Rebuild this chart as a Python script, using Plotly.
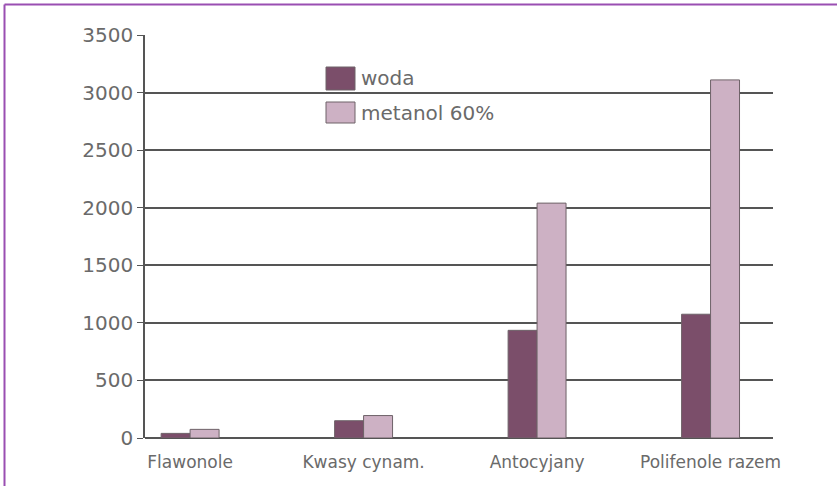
import plotly.graph_objects as go

# Zawartość związków fenolowych w ekstraktach
kategorie = ["Flawonole", "Kwasy cynam.", "Antocyjany", "Polifenole razem"]
woda = [40, 150, 935, 1075]
metanol_60 = [75, 195, 2040, 3110]
y_ticks = [0, 500, 1000, 1500, 2000, 2500, 3000, 3500]

nazwy = ["woda", "metanol 60%"]
kolory = ["#7b4e6a", "#cdb1c4"]

W, H = 837, 486
L, R, T, B = 145, 64, 35, 48
pw, ph = W - L - R, H - T - B


def px_x(x):
    return (x - L) / pw


def px_y(y):
    return (H - B - y) / ph


fig = go.Figure()
for nazwa, wartosci, kolor in zip(nazwy, [woda, metanol_60], kolory):
    fig.add_trace(go.Bar(
        x=kategorie, y=wartosci, name=nazwa,
        marker=dict(color=kolor, line=dict(color="#6e6268", width=1)),
        showlegend=False,
    ))

# ramka wokół wykresu (góra i lewa strona)
ramka = dict(color="#9a4fb2", width=2)
shapes = [
    dict(type="line", xref="paper", yref="paper",
         x0=px_x(4.5), x1=px_x(W), y0=px_y(4.5), y1=px_y(4.5), line=ramka),
    dict(type="line", xref="paper", yref="paper",
         x0=px_x(4.5), x1=px_x(4.5), y0=px_y(4.5), y1=px_y(H), line=ramka),
]

# własna legenda z dużymi kwadratami
annotations = []
legenda_y = [(67, 90), (102, 123)]
for nazwa, kolor, (ya, yb) in zip(nazwy, kolory, legenda_y):
    shapes.append(dict(type="rect", xref="paper", yref="paper",
                       x0=px_x(326), x1=px_x(355), y0=px_y(yb), y1=px_y(ya),
                       fillcolor=kolor, line=dict(color="#6e6268", width=1)))
    annotations.append(dict(xref="paper", yref="paper", x=px_x(359),
                            y=px_y((ya + yb) / 2), text=nazwa, showarrow=False,
                            xanchor="left", yanchor="middle",
                            font=dict(family="DejaVu Sans", size=20, color="#6a6a6a")))

fig.update_layout(
    width=W, height=H,
    margin=dict(l=L, r=R, t=T, b=B, pad=0),
    paper_bgcolor="white", plot_bgcolor="white",
    barmode="group", bargap=0.666, bargroupgap=0,
    shapes=shapes, annotations=annotations,
    xaxis=dict(type="category", range=[-0.26, 3.36], showgrid=False,
               showline=False, ticks="", ticklabelstandoff=12,
               tickfont=dict(family="DejaVu Sans", size=17, color="#6a6a6a")),
    yaxis=dict(range=[0, 3500], tickvals=y_ticks,
               ticktext=[str(v) for v in y_ticks],
               showgrid=True, gridcolor="#555555", gridwidth=1.6,
               zeroline=True, zerolinecolor="#555555", zerolinewidth=1.6,
               showline=True, linecolor="#555555", linewidth=1.6,
               ticks="outside", ticklen=6, tickcolor="#555555",
               tickfont=dict(family="DejaVu Sans", size=20, color="#6a6a6a")),
)

fig.write_html("out.html")
